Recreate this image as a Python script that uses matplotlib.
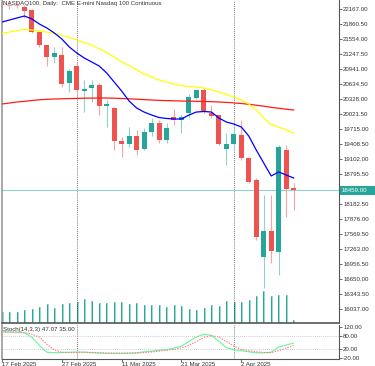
import matplotlib
matplotlib.use("Agg")
import matplotlib.pyplot as plt
from matplotlib.patches import Rectangle
import numpy as np

plt.rcParams['font.family'] = ['Liberation Sans', 'DejaVu Sans']

# ---------------- data ----------------
dates = ["17 Feb 2025", "18 Feb 2025", "19 Feb 2025", "20 Feb 2025", "21 Feb 2025",
         "24 Feb 2025", "25 Feb 2025", "26 Feb 2025", "27 Feb 2025", "28 Feb 2025",
         "3 Mar 2025", "4 Mar 2025", "5 Mar 2025", "6 Mar 2025", "7 Mar 2025",
         "10 Mar 2025", "11 Mar 2025", "12 Mar 2025", "13 Mar 2025", "14 Mar 2025",
         "17 Mar 2025", "18 Mar 2025", "19 Mar 2025", "20 Mar 2025", "21 Mar 2025",
         "24 Mar 2025", "25 Mar 2025", "26 Mar 2025", "27 Mar 2025", "28 Mar 2025",
         "31 Mar 2025", "1 Apr 2025", "2 Apr 2025", "3 Apr 2025", "4 Apr 2025",
         "7 Apr 2025", "8 Apr 2025", "9 Apr 2025", "10 Apr 2025", "11 Apr 2025"]
date_labels = ["17 Feb 2025", "27 Feb 2025", "11 Mar 2025", "21 Mar 2025", "2 Apr 2025"]
separators = ["3 Mar 2025", "1 Apr 2025"]

opens = [22280, 22255, 22250, 22208, 22147, 21697, 21431, 21186, 21227, 20655,
         21002, 20497, 20553, 20614, 20185, 20144, 19470, 19409, 19572, 19306,
         19654, 19838, 19490, 19960, 19899, 20042, 20348, 20512, 20042, 20001,
         19306, 19409, 19592, 19122, 18673, 17100, 17631, 17202, 19286, 18509]
highs = [22340, 22330, 22320, 22249, 22167, 21717, 21440, 21391, 21391, 20941,
         21084, 20716, 20716, 20655, 20307, 20164, 19552, 19756, 19695, 19735,
         19940, 19899, 19838, 20124, 20001, 20430, 20532, 20553, 20205, 20001,
         19633, 19756, 19899, 19143, 18714, 18367, 18367, 19388, 19388, 18612]
lows = [22190, 22175, 22180, 21983, 21677, 21391, 21002, 21064, 20573, 20471,
        20307, 20062, 20267, 20001, 19756, 19286, 19143, 19347, 19184, 19286,
        19572, 19429, 19429, 19797, 19633, 19940, 20328, 20042, 19940, 19388,
        18979, 19286, 19082, 18612, 17447, 16467, 16977, 16732, 17917, 18060]
closes = [22260, 22245, 22240, 22126, 21697, 21431, 21186, 21268, 20635, 20900,
          20512, 20539, 20614, 20185, 20226, 19470, 19409, 19572, 19286, 19654,
          19838, 19490, 19735, 19899, 19960, 20369, 20512, 20062, 19981, 19409,
          19409, 19613, 19122, 18632, 17508, 17631, 17222, 19347, 18489, 18459]
volumes = [110000, 113000, 113000, 130000, 143000, 167000, 190000, 157000, 193000, 200000,
           217000, 240000, 223000, 203000, 203000, 210000, 213000, 190000, 203000, 183000,
           183000, 180000, 167000, 180000, 173000, 143000, 133000, 150000, 180000, 173000,
           220000, 208000, 213000, 233000, 273000, 323000, 273000, 283000, 283000, 33000]
ma_fast = [21901, 21942, 21983, 22024, 21963, 21860, 21779, 21677, 21554, 21391,
           21268, 21166, 21084, 21002, 20859, 20675, 20491, 20287, 20144, 20062,
           20001, 19950, 19930, 19919, 19919, 20001, 20062, 20073, 20062, 19940,
           19858, 19817, 19756, 19572, 19286, 19020, 18755, 18837, 18775, 18714]
ma_mid = [21667, 21697, 21728, 21748, 21738, 21717, 21697, 21667, 21626, 21585,
          21534, 21483, 21431, 21350, 21278, 21186, 21084, 21013, 20921, 20839,
          20778, 20716, 20675, 20635, 20604, 20584, 20573, 20553, 20522, 20471,
          20420, 20369, 20307, 20226, 20103, 19940, 19807, 19756, 19695, 19633]
ma_slow = [20226, 20246, 20267, 20281, 20297, 20312, 20322, 20328, 20332, 20336,
           20340, 20344, 20346, 20348, 20348, 20344, 20338, 20332, 20324, 20316,
           20307, 20301, 20295, 20291, 20287, 20285, 20281, 20277, 20273, 20267,
           20259, 20248, 20236, 20220, 20201, 20181, 20158, 20138, 20120, 20103]
stoch_k = [99, 98, 97, 95, 74, 36, 5, 3, 3, 5,
           6, 5, 3, 1, 0, 0, 0, 1, 2, 7,
           10, 14, 17, 24, 33, 55, 76, 88, 83, 55,
           26, 17, 12, 7, 2, 2, 5, 29, 38, 47.07]
stoch_d = [99, 98, 98, 96, 88, 75, 42, 15, 5, 3,
           4, 5, 4, 3, 1, 0.5, 0.5, 0.5, 1, 3,
           6, 10, 14, 18, 25, 37, 55, 73, 82, 75,
           55, 33, 18, 12, 7, 4, 3, 12, 24, 35.00]
price_ticks = [22167.00, 21860.50, 21554.00, 21247.50, 20941.00, 20634.50, 20328.00,
               20021.50, 19715.00, 19408.50, 19102.00, 18795.50, 18182.50, 17876.00,
               17569.50, 17263.00, 16956.50, 16650.00, 16343.50, 16037.00]
stoch_ticks = [120, 80, 20, -20]
stoch_levels = [80, 20]
last_price = 18459.00
title = "NASDAQ100, Daily:  CME E-mini Nasdaq 100 Continuous"
stoch_title = "Stoch(14,3,3) 47.07 35.00"

# ---------------- styling ----------------
W, H = 375, 366
fig = plt.figure(figsize=(W / 100, H / 100), dpi=100)
fig.patch.set_facecolor("white")

def box(x0, y0, x1, y1):
    return [x0 / W, 1 - y1 / H, (x1 - x0) / W, (y1 - y0) / H]

ax = fig.add_axes(box(2, 0, 339, 323.3))
axs = fig.add_axes(box(2, 324.5, 339, 358.5), sharex=ax)

UP, DN = "#26a69a", "#ef5350"
UPW, DNW = "#8fd3ca", "#f6a5a4"
FS = 4.4
AXC = "#333333"

x = np.arange(len(dates))
xmin = (2 - 1) / 7.5
xmax = (339 - 1) / 7.5

# volumes on a twin axis
axv = ax.twinx()
axv.set_ylim(0, max(volumes) * 10)
axv.vlines(x + 0.1, 0, volumes, color="#93d6cc", lw=1.3, zorder=1)
axv.vlines(x - 0.03, 0, volumes, color="#26a69a", lw=0.7, zorder=1)
axv.set_yticks([])
axv.set_zorder(0)
ax.set_zorder(1)
ax.patch.set_visible(False)
for s in axv.spines.values():
    s.set_visible(False)

# candles
bw = 0.667
for i in range(len(dates)):
    o, h, l, c = opens[i], highs[i], lows[i], closes[i]
    up = c >= o
    ax.vlines(x[i], l, h, color=UPW if up else DNW, lw=0.8, zorder=2)
    lo, hi = min(o, c), max(o, c)
    if hi - lo < 25:
        ax.hlines((o + c) / 2, x[i] - bw / 2, x[i] + bw / 2, color=UPW if up else DNW, lw=0.8, zorder=3)
    else:
        ax.bar(x[i], hi - lo, bottom=lo, width=bw, color=UP if up else DN, lw=0, zorder=3)

ax.plot(x, ma_slow, color="#ff1a1a", lw=0.9, zorder=4)
ax.plot(x, ma_mid, color="#ffff00", lw=0.9, zorder=4)
ax.plot(x, ma_fast, color="#0000ff", lw=0.9, zorder=4)

ax.axhline(last_price, color="#8fd3ca", lw=0.8, zorder=1)

for d in separators:
    xi = dates.index(d)
    for a in (ax, axs):
        a.axvline(xi, color="#444444", lw=0.6, ls=(0, (1, 1.5)), zorder=0.5)

ax.set_xlim(xmin, xmax)
ymax = 22167 + 9 * 20.433
ymin = 22167 - (323.3 - 9) * 20.433
ax.set_ylim(ymin, ymax)

ax.yaxis.tick_right()
ax.set_yticks(price_ticks)
ax.set_yticklabels([f"{v:.2f}" for v in price_ticks], fontsize=FS, color="#333333")
ax.tick_params(axis="y", length=2, width=0.5, pad=1, colors=AXC)
ax.tick_params(axis="x", length=0, labelbottom=False)
ax.spines["top"].set_visible(False)
ax.spines["left"].set_color("#999999")
ax.spines["left"].set_linewidth(1.2)
ax.spines["right"].set_color("#555555")
ax.spines["right"].set_linewidth(0.8)
ax.spines["bottom"].set_color("#555555")
ax.spines["bottom"].set_linewidth(1.2)

# current price marker box
yc = ax.transData.transform((0, last_price))[1]
fig.patches.append(Rectangle((339.5 / W, (yc - 4.5) / H), (W - 339.5) / W, 9 / H,
                             transform=fig.transFigure, fc="#26a69a", ec="none", zorder=9))
fig.text(342 / W, yc / H, f"{last_price:.2f}", fontsize=FS, color="white",
         va="center", ha="left", zorder=11)

fig.text(3 / W, 1 - 3.8 / H, title, fontsize=FS, color="#333333", va="center", ha="left")

# stochastic panel
s_lo, s_hi = -24, 133
axs.set_ylim(s_lo, s_hi)
for lv in stoch_levels:
    axs.axhline(lv, color="#bbbbbb", lw=0.6, ls=(0, (1, 1.5)), zorder=0.5)
axs.plot(x, stoch_k, color="#66f5a0", lw=0.8, zorder=3)
axs.plot(x, stoch_d, color="#ff7b7b", lw=0.8, ls=(0, (1.2, 1.2)), zorder=3)
axs.yaxis.tick_right()
axs.set_yticks(stoch_ticks)
axs.set_yticklabels([f"{v:.2f}" for v in stoch_ticks], fontsize=FS, color="#333333")
axs.tick_params(axis="y", length=2, width=0.5, pad=1, colors=AXC)
axs.text(0.003, 0.86, stoch_title, transform=axs.transAxes, fontsize=FS, color="#333333",
         va="center", ha="left", zorder=5)
axs.spines["top"].set_visible(False)
axs.spines["left"].set_color("#999999")
axs.spines["left"].set_linewidth(1.2)
axs.spines["right"].set_color("#555555")
axs.spines["right"].set_linewidth(0.8)
axs.spines["bottom"].set_color("#555555")
axs.spines["bottom"].set_linewidth(0.8)

axs.set_xticks([dates.index(d) for d in date_labels])
axs.set_xticklabels(date_labels, fontsize=FS, color="#333333", ha="left")
axs.tick_params(axis="x", length=2, width=0.5, pad=0.3, colors=AXC)
for lab in axs.get_xticklabels():
    lab.set_horizontalalignment("left")

fig.savefig("out.png", dpi=100)
